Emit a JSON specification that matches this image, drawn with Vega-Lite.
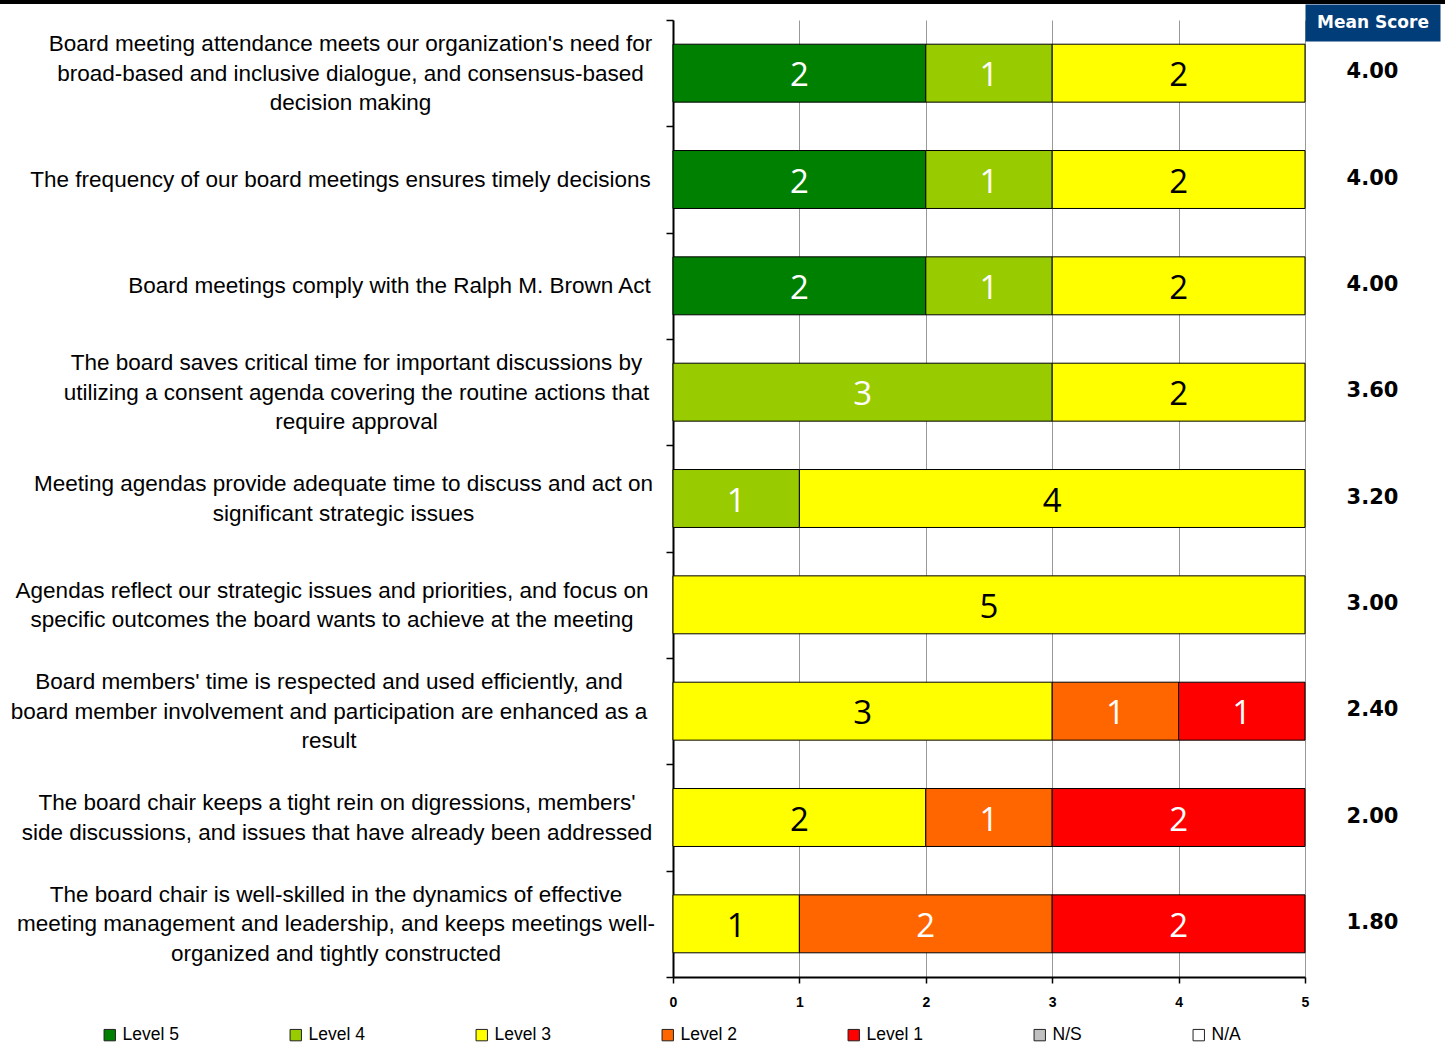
{
  "$schema": "https://vega.github.io/schema/vega-lite/v6.json",
  "padding": 0,
  "background": "white",
  "config": {
    "view": {"stroke": null}
  },
  "datasets": {
    "responses": [
      {"question": "Board meeting attendance meets our organization's need for\nbroad-based and inclusive dialogue, and consensus-based\ndecision making", "level": "Level 5", "count": 2},
      {"question": "Board meeting attendance meets our organization's need for\nbroad-based and inclusive dialogue, and consensus-based\ndecision making", "level": "Level 4", "count": 1},
      {"question": "Board meeting attendance meets our organization's need for\nbroad-based and inclusive dialogue, and consensus-based\ndecision making", "level": "Level 3", "count": 2},
      {"question": "The frequency of our board meetings ensures timely decisions", "level": "Level 5", "count": 2},
      {"question": "The frequency of our board meetings ensures timely decisions", "level": "Level 4", "count": 1},
      {"question": "The frequency of our board meetings ensures timely decisions", "level": "Level 3", "count": 2},
      {"question": "Board meetings comply with the Ralph M. Brown Act", "level": "Level 5", "count": 2},
      {"question": "Board meetings comply with the Ralph M. Brown Act", "level": "Level 4", "count": 1},
      {"question": "Board meetings comply with the Ralph M. Brown Act", "level": "Level 3", "count": 2},
      {"question": "The board saves critical time for important discussions by\nutilizing a consent agenda covering the routine actions that\nrequire approval", "level": "Level 4", "count": 3},
      {"question": "The board saves critical time for important discussions by\nutilizing a consent agenda covering the routine actions that\nrequire approval", "level": "Level 3", "count": 2},
      {"question": "Meeting agendas provide adequate time to discuss and act on\nsignificant strategic issues", "level": "Level 4", "count": 1},
      {"question": "Meeting agendas provide adequate time to discuss and act on\nsignificant strategic issues", "level": "Level 3", "count": 4},
      {"question": "Agendas reflect our strategic issues and priorities, and focus on\nspecific outcomes the board wants to achieve at the meeting", "level": "Level 3", "count": 5},
      {"question": "Board members' time is respected and used efficiently, and\nboard member involvement and participation are enhanced as a\nresult", "level": "Level 3", "count": 3},
      {"question": "Board members' time is respected and used efficiently, and\nboard member involvement and participation are enhanced as a\nresult", "level": "Level 2", "count": 1},
      {"question": "Board members' time is respected and used efficiently, and\nboard member involvement and participation are enhanced as a\nresult", "level": "Level 1", "count": 1},
      {"question": "The board chair keeps a tight rein on digressions, members'\nside discussions, and issues that have already been addressed", "level": "Level 3", "count": 2},
      {"question": "The board chair keeps a tight rein on digressions, members'\nside discussions, and issues that have already been addressed", "level": "Level 2", "count": 1},
      {"question": "The board chair keeps a tight rein on digressions, members'\nside discussions, and issues that have already been addressed", "level": "Level 1", "count": 2},
      {"question": "The board chair is well-skilled in the dynamics of effective\nmeeting management and leadership, and keeps meetings well-\norganized and tightly constructed", "level": "Level 3", "count": 1},
      {"question": "The board chair is well-skilled in the dynamics of effective\nmeeting management and leadership, and keeps meetings well-\norganized and tightly constructed", "level": "Level 2", "count": 2},
      {"question": "The board chair is well-skilled in the dynamics of effective\nmeeting management and leadership, and keeps meetings well-\norganized and tightly constructed", "level": "Level 1", "count": 2}
    ],
    "means": [
      {"question": "Board meeting attendance meets our organization's need for\nbroad-based and inclusive dialogue, and consensus-based\ndecision making", "mean": 4.0},
      {"question": "The frequency of our board meetings ensures timely decisions", "mean": 4.0},
      {"question": "Board meetings comply with the Ralph M. Brown Act", "mean": 4.0},
      {"question": "The board saves critical time for important discussions by\nutilizing a consent agenda covering the routine actions that\nrequire approval", "mean": 3.6},
      {"question": "Meeting agendas provide adequate time to discuss and act on\nsignificant strategic issues", "mean": 3.2},
      {"question": "Agendas reflect our strategic issues and priorities, and focus on\nspecific outcomes the board wants to achieve at the meeting", "mean": 3.0},
      {"question": "Board members' time is respected and used efficiently, and\nboard member involvement and participation are enhanced as a\nresult", "mean": 2.4},
      {"question": "The board chair keeps a tight rein on digressions, members'\nside discussions, and issues that have already been addressed", "mean": 2.0},
      {"question": "The board chair is well-skilled in the dynamics of effective\nmeeting management and leadership, and keeps meetings well-\norganized and tightly constructed", "mean": 1.8}
    ]
  },
  "spacing": 5,
  "vconcat": [
    {
      "width": 1445,
      "height": 4,
      "view": {"fill": "black", "stroke": null},
      "data": {"values": [{}]},
      "mark": {"type": "rect", "color": "black"}
    },
    {
      "spacing": 0,
      "bounds": "flush",
      "hconcat": [
        {
          "width": 1305,
          "height": 957,
          "data": {"name": "responses"},
          "encoding": {
            "y": {
              "field": "question",
              "type": "nominal",
              "sort": null,
              "scale": {"paddingInner": 0, "paddingOuter": 0},
              "axis": {
                "title": null,
                "orient": "left",
                "offset": -673,
                "domainColor": "black",
                "domainWidth": 2,
                "tickColor": "black",
                "tickSize": 7,
                "tickWidth": 1.5,
                "tickBand": "extent",
                "labelFont": "Liberation Sans",
                "labelFontSize": 22.5,
                "labelColor": "black",
                "labelAlign": "center",
                "labelBaseline": "middle",
                "labelLineHeight": 29.5,
                "labelLimit": 0,
                "labelOverlap": false,
                "labelBound": false,
                "labelExpr": "split(datum.label, '\\n')",
                "labelPadding": {"expr": "[316,326,277,310,323,334.5,337.5,329.5,330.5][round(datum.index*8)]"},
                "labelOffset": {"expr": "-(length(split(datum.value, '\\n')) - 1) * 14.75"},
                "grid": false
              }
            },
            "x": {
              "field": "count",
              "type": "quantitative",
              "stack": "zero",
              "scale": {"domain": [0, 5], "nice": false, "range": [673, 1305]},
              "axis": {
                "title": null,
                "orient": "bottom",
                "values": [0, 1, 2, 3, 4, 5],
                "format": "d",
                "grid": true,
                "gridColor": "#999999",
                "gridWidth": 1,
                "domainColor": "black",
                "domainWidth": 2,
                "tickColor": "black",
                "tickSize": 6,
                "tickWidth": 1.5,
                "labelFont": "Liberation Sans",
                "labelFontSize": 14,
                "labelFontWeight": "bold",
                "labelColor": "black",
                "labelPadding": 12,
                "labelFlush": false
              }
            },
            "order": {"field": "level", "sort": "descending"}
          },
          "layer": [
            {
              "mark": {"type": "bar", "height": {"band": 0.545}, "stroke": "black", "strokeWidth": 1},
              "encoding": {
                "color": {
                  "field": "level",
                  "type": "nominal",
                  "scale": {
                    "domain": ["Level 5", "Level 4", "Level 3", "Level 2", "Level 1", "N/S", "N/A"],
                    "range": ["#008000", "#99CC00", "#FFFF00", "#FF6600", "#FF0000", "#C0C0C0", "#FFFFFF"]
                  },
                  "legend": {
                    "title": null,
                    "orient": "none",
                    "legendX": 101,
                    "legendY": 1026,
                    "direction": "horizontal",
                    "columns": 7,
                    "padding": 0,
                    "symbolType": "square",
                    "symbolSize": 130,
                    "symbolStrokeColor": "#222222",
                    "symbolStrokeWidth": 1,
                    "symbolOpacity": 1,
                    "labelFont": "Liberation Sans",
                    "labelFontSize": 17.5,
                    "labelColor": "black",
                    "labelOffset": 4,
                    "columnPadding": 108
                  }
                }
              }
            },
            {
              "mark": {"type": "text", "font": "Open Sans", "fontSize": 33, "baseline": "middle", "dy": 3},
              "encoding": {
                "x": {"field": "count", "type": "quantitative", "stack": "zero", "bandPosition": 0.5},
                "detail": {"field": "level"},
                "text": {"field": "count", "type": "quantitative"},
                "color": {"condition": {"test": "datum.level === 'Level 3'", "value": "black"}, "value": "white"}
              }
            }
          ]
        },
        {
          "width": 135,
          "height": 957,
          "data": {"name": "means"},
          "mark": {"type": "text", "font": "DejaVu Sans", "fontSize": 21, "fontWeight": "bold", "color": "black", "baseline": "middle", "dy": -1},
          "encoding": {
            "y": {
              "field": "question",
              "type": "nominal",
              "sort": null,
              "scale": {"paddingInner": 0, "paddingOuter": 0},
              "axis": null
            },
            "x": {
              "datum": 0.5,
              "type": "quantitative",
              "scale": {"domain": [0, 1]},
              "axis": {
                "orient": "top",
                "offset": -2.5,
                "domain": true,
                "domainColor": "#003D79",
                "domainWidth": 37,
                "domainCap": "butt",
                "ticks": false,
                "labels": false,
                "grid": false,
                "title": "Mean Score",
                "titleColor": "white",
                "titleFont": "DejaVu Sans",
                "titleFontSize": 17,
                "titleFontWeight": "bold",
                "titleBaseline": "middle",
                "titleAlign": "center",
                "titleX": 67.5,
                "titleY": 0
              }
            },
            "text": {"field": "mean", "type": "quantitative", "format": ".2f"}
          }
        }
      ]
    }
  ]
}
